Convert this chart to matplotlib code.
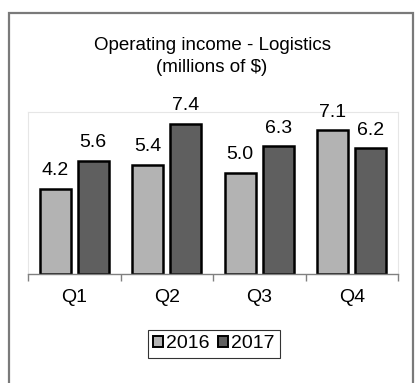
import matplotlib.pyplot as plt
import numpy as np
from matplotlib.patches import Rectangle

plt.rcParams["font.family"] = ["Liberation Sans", "DejaVu Sans"]

# data
quarters = ["Q1", "Q2", "Q3", "Q4"]
income_2016 = [4.2, 5.4, 5.0, 7.1]
income_2017 = [5.6, 7.4, 6.3, 6.2]
years = ["2016", "2017"]

C2016 = "#b3b3b3"
C2017 = "#5f5f5f"

fig = plt.figure(figsize=(4.16, 3.83), dpi=100)

# outer frame (open at the bottom edge of the image)
fig.patches.append(Rectangle((9 / 416, -0.05), 404 / 416, 1.05 - 13 / 383,
                             transform=fig.transFigure, fill=False,
                             edgecolor="#7a7a7a", linewidth=1.6))

ax = fig.add_axes([28 / 416, 109 / 383, 370 / 416, 162 / 383])

x = np.arange(len(quarters))
w = 0.335
off = 0.205
b1 = ax.bar(x - off, income_2016, w, color=C2016, edgecolor="black",
            linewidth=1.8, label=years[0])
b2 = ax.bar(x + off, income_2017, w, color=C2017, edgecolor="black",
            linewidth=1.8, label=years[1])

for bars in (b1, b2):
    for rect in bars:
        h = rect.get_height()
        ax.annotate(f"{h:.1f}", (rect.get_x() + rect.get_width() / 2, h),
                    xytext=(0, 7), textcoords="offset points",
                    ha="center", va="bottom", fontsize=14, clip_on=False)

ax.set_xlim(-0.5, 3.5)
ax.set_ylim(0, 8)
ax.set_yticks([])

# category boundary ticks
ax.set_xticks(np.arange(-0.5, 4, 1))
ax.set_xticklabels([])
ax.set_xticks(x, minor=True)
ax.set_xticklabels(quarters, minor=True, fontsize=14)
ax.tick_params(axis="x", which="minor", length=0, pad=11)
ax.tick_params(axis="x", which="major", length=5, width=1, color="#808080",
               direction="out")

for side in ("top", "right", "left"):
    ax.spines[side].set_color("#e6e6e6")
    ax.spines[side].set_linewidth(0.8)
ax.spines["bottom"].set_color("#808080")
ax.spines["bottom"].set_linewidth(1)

fig.text(212 / 416, 1 - 46 / 383, "Operating income - Logistics",
         ha="center", va="center", fontsize=13.5)
fig.text(212 / 416, 1 - 68 / 383, "(millions of $)",
         ha="center", va="center", fontsize=13.5)

leg = fig.legend(loc="center", bbox_to_anchor=(214 / 416, 1 - 344 / 383),
                 ncol=2, fontsize=14, frameon=True, fancybox=False,
                 handlelength=0.5, handleheight=0.5, handletextpad=0.15,
                 columnspacing=0.45, borderpad=0.3, borderaxespad=0)
leg.get_frame().set_edgecolor("black")
leg.get_frame().set_linewidth(0.8)
for h in leg.legend_handles:
    h.set_linewidth(1.4)

fig.savefig("out.png", dpi=100)
